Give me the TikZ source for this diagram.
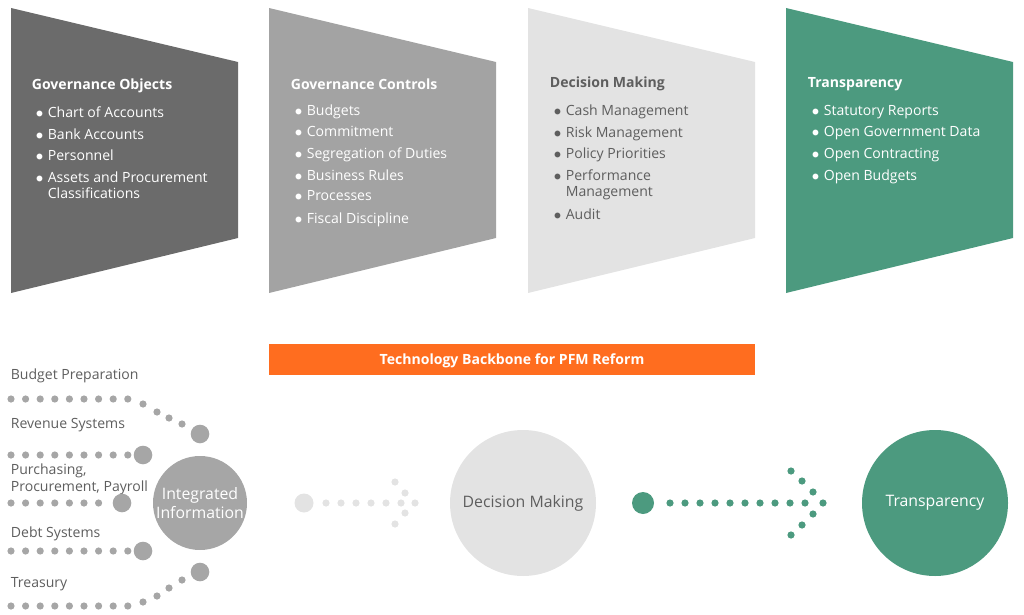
\documentclass[tikz,border=0pt]{standalone}
\usepackage{fontspec}
\setmainfont{Open Sans}
\definecolor{darkbox}{HTML}{6B6B6B}
\definecolor{midbox}{HTML}{A3A3A3}
\definecolor{lightbox}{HTML}{E3E3E3}
\definecolor{greenbox}{HTML}{4C9A7F}
\definecolor{orangebar}{HTML}{FF6D1F}
\definecolor{dotgray}{HTML}{A6A6A6}
\definecolor{labelgray}{HTML}{5E5E5E}
\newcommand\pfmitem[1]{\makebox[6.8pt][l]{$\bullet$}#1}
\newcommand\pfmcont{\hspace*{6.8pt}}
\begin{document}
\begin{tikzpicture}[x=0.02cm,y=-0.02cm,line width=1pt]
      \tikzstyle{every node}=[inner sep=0pt,font=\fontsize{8}{9.6}\selectfont];
      \tikzstyle{title}=[anchor=west,font=\fontsize{8}{9.6}\selectfont\bfseries];
      \tikzstyle{item}=[anchor=north west,align=left];
      \useasboundingbox (0,0) rectangle (1024,615);

      % the four funnel panels
      \fill[darkbox] (11,8) -- (238,62) -- (238,238) -- (11,293) -- cycle;
      \fill[midbox] (269,8) -- (496,62) -- (496,238) -- (269,293) -- cycle;
      \fill[lightbox] (528,8) -- (755,62) -- (755,238) -- (528,293) -- cycle;
      \fill[greenbox] (786,8) -- (1013,62) -- (1013,238) -- (786,293) -- cycle;

      \node[title,text=white] (govobj) at (31,86) {Governance Objects};
      \foreach \t [count=\i] in {Chart of Accounts,Bank Accounts,Personnel}
        \node[item,text=white] (govobj\i) at (35,106+21.5*\i-21.5) {\pfmitem{\t}};
      \node[item,text=white] (govobj4) at (35,170.5) {\pfmitem{Assets and Procurement}\\\pfmcont Classifications};

      \node[title,text=white] (govctl) at (290,84) {Governance Controls};
      \foreach \t [count=\i] in {Budgets,Commitment,Segregation of Duties,Business Rules,Processes,Fiscal Discipline}
        \node[item,text=white] (govctl\i) at (294,104+21.5*\i-21.5) {\pfmitem{\t}};

      \node[title,text=labelgray] (decide) at (549,84) {Decision Making};
      \foreach \t [count=\i] in {Cash Management,Risk Management,Policy Priorities}
        \node[item,text=labelgray] (decide\i) at (553,104+21.5*\i-21.5) {\pfmitem{\t}};
      \node[item,text=labelgray] (decide4) at (553,168.5) {\pfmitem{Performance}\\\pfmcont Management};
      \node[item,text=labelgray] (decide5) at (553,208) {\pfmitem{Audit}};

      \node[title,text=white] (transp) at (807,84) {Transparency};
      \foreach \t [count=\i] in {Statutory Reports,Open Government Data,Open Contracting,Open Budgets}
        \node[item,text=white] (transp\i) at (811,104+21.5*\i-21.5) {\pfmitem{\t}};

      % backbone bar
      \fill[orangebar] (269,344) rectangle (755,375);
      \node[text=white,font=\fontsize{8}{9.6}\selectfont\bfseries] (backbone) at (512,361) {Technology Backbone for PFM Reform};

      % feeding systems
      \foreach \t/\y [count=\i] in {Budget Preparation/376,Revenue Systems/425,Debt Systems/534,Treasury/584}
        \node[anchor=west,text=labelgray] (sys\i) at (10,\y) {\t};
      \node[anchor=west,align=left,text=labelgray] (sys5) at (10,479) {Purchasing,\\Procurement, Payroll};

      \foreach \x in {0,...,8} {
        \fill[dotgray] (11+14.6*\x,399) circle (3.6);
        \fill[dotgray] (11+14.6*\x,455) circle (3.6);
        \fill[dotgray] (11+14.6*\x,551) circle (3.6);
        \fill[dotgray] (11+14.6*\x,606) circle (3.6);
      }
      \foreach \x in {0,...,6}
        \fill[dotgray] (11+14.6*\x,503) circle (3.6);
      \foreach \x/\y in {143/404,157/412,169/418,182/424}
        \fill[dotgray] (\x,\y) circle (3.6);
      \foreach \x/\y in {143/602,157/596,169/588,182/580}
        \fill[dotgray] (\x,\y) circle (3.6);
      \foreach \x/\y in {200/434,143/455,122/503,143/551,200/572}
        \fill[dotgray] (\x,\y) circle (9.3);

      % the three stages
      \node[circle,fill=dotgray,minimum size=94*0.02cm,align=center,text=white,font=\fontsize{9}{10.5}\selectfont] (integ) at (200,503) {Integrated\\Information};
      \node[circle,fill=lightbox,minimum size=146*0.02cm,text=labelgray,font=\fontsize{9}{10.5}\selectfont] (dmcirc) at (523,503) {Decision Making};
      \node[circle,fill=greenbox,minimum size=146*0.02cm,text=white,font=\fontsize{9}{10.5}\selectfont] (trcirc) at (935,503) {Transparency};

      % dotted arrows
      \fill[lightbox] (304,503) circle (9.5);
      \foreach \x in {0,...,5}
        \fill[lightbox] (326+15*\x,503) circle (3.6);
      \foreach \x/\y in {415/503,405/493,395/482,405/513,395/524}
        \fill[lightbox] (\x,\y) circle (3.6);

      \fill[greenbox] (643,503) circle (11);
      \foreach \x in {0,...,9}
        \fill[greenbox] (670+15*\x,503) circle (3.6);
      \foreach \x/\y in {823/503,813/492,802/481,791/471,813/514,802/525,791/535}
        \fill[greenbox] (\x,\y) circle (3.6);
    \end{tikzpicture}
\end{document}
